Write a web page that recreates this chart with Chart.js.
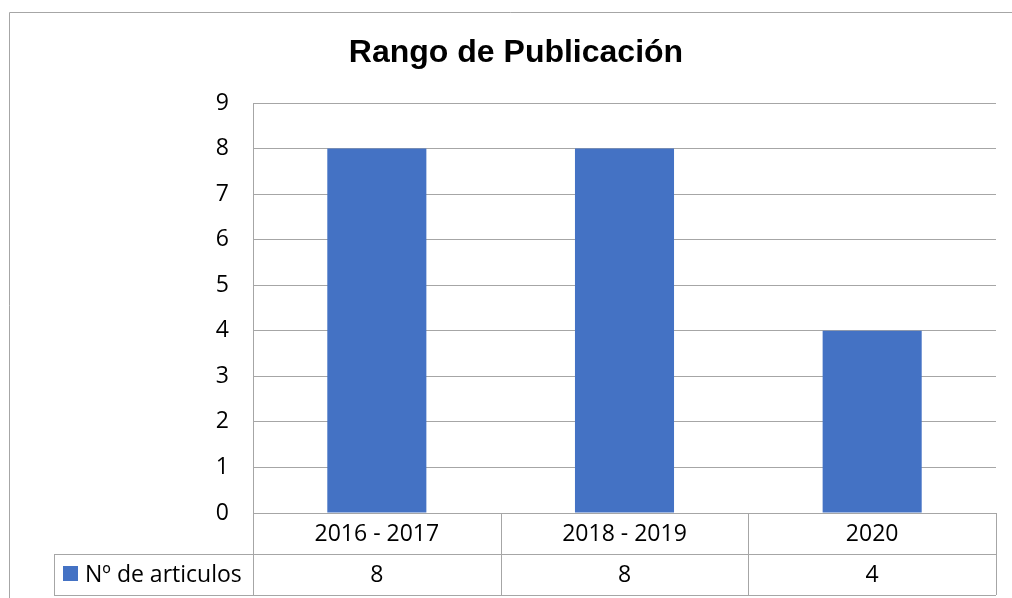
<!DOCTYPE html>
<html>
<head>
<meta charset="utf-8">
<script src="https://cdn.jsdelivr.net/npm/chart.js@4"></script>
<style>
  body { margin: 0; background: #fff; }
  canvas { display: block; }
</style>
</head>
<body>
<canvas id="grafico" width="1012" height="598"></canvas>
<script>
// Datos del gráfico
const titulo = 'Rango de Publicación';
const categorias = ['2016 - 2017', '2018 - 2019', '2020'];
const serieNombre = 'Nº de articulos';
const articulos = [8, 8, 4];
const ticksY = [0, 1, 2, 3, 4, 5, 6, 7, 8, 9];

const azul = '#4472C4';
const gris = '#a6a6a6';
const fuente = '"Open Sans", sans-serif';

// Título, borde exterior y tabla de datos bajo el eje
const tablaPlugin = {
  id: 'tabla',
  afterDraw(chart) {
    const ctx = chart.ctx;
    const area = chart.chartArea;
    const x = chart.scales.x;
    const ancho = (area.right - area.left) / categorias.length;
    const fila = 41;
    const y0 = area.bottom, y1 = y0 + fila, y2 = y1 + fila;
    const leyIzq = 54;

    ctx.save();
    // borde del gráfico
    ctx.strokeStyle = gris;
    ctx.lineWidth = 1;
    ctx.beginPath();
    ctx.moveTo(9.5, 598); ctx.lineTo(9.5, 12.5); ctx.lineTo(1012, 12.5);
    ctx.stroke();

    // título
    ctx.fillStyle = '#000';
    ctx.font = 'bold 32px "Liberation Sans", Arial, sans-serif';
    ctx.textAlign = 'center';
    ctx.textBaseline = 'middle';
    ctx.fillText(titulo, 516, 53);

    // líneas de la tabla
    ctx.strokeStyle = gris;
    ctx.beginPath();
    ctx.moveTo(area.left, y0 + 0.5); ctx.lineTo(area.right, y0 + 0.5);
    ctx.moveTo(leyIzq, y1 + 0.5); ctx.lineTo(area.right, y1 + 0.5);
    ctx.moveTo(leyIzq, y2 + 0.5); ctx.lineTo(area.right, y2 + 0.5);
    ctx.moveTo(leyIzq + 0.5, y1); ctx.lineTo(leyIzq + 0.5, y2);
    for (let i = 0; i <= categorias.length; i++) {
      const xi = Math.round(area.left + i * ancho) + 0.5;
      ctx.moveTo(xi, y0); ctx.lineTo(xi, y2);
    }
    ctx.stroke();

    // textos
    ctx.fillStyle = '#000';
    ctx.font = '23px ' + fuente;
    categorias.forEach((c, i) => {
      const cx = x.getPixelForValue(i);
      ctx.fillText(c, cx, (y0 + y1) / 2 + 1);
      ctx.fillText(String(articulos[i]), cx, (y1 + y2) / 2 + 1);
    });

    // leyenda
    ctx.fillStyle = azul;
    ctx.fillRect(63, 566, 15, 15);
    ctx.fillStyle = '#000';
    ctx.textAlign = 'left';
    ctx.fillText(serieNombre, 85, (y1 + y2) / 2 + 1);
    ctx.restore();
  }
};

new Chart(document.getElementById('grafico'), {
  type: 'bar',
  data: {
    labels: categorias,
    datasets: [{
      label: serieNombre,
      data: articulos,
      backgroundColor: azul,
      barPercentage: 1,
      categoryPercentage: 0.4
    }]
  },
  options: {
    responsive: false,
    animation: false,
    devicePixelRatio: 1,
    layout: { padding: { left: 0, top: 103, right: 16, bottom: 85 } },
    plugins: { legend: { display: false }, title: { display: false }, tooltip: { enabled: false } },
    scales: {
      x: { display: false },
      y: {
        min: 0,
        max: 9,
        afterFit(scale) { scale.width = 253; },
        afterBuildTicks(scale) { scale.ticks = ticksY.map(v => ({ value: v })); },
        grid: { color: gris, drawTicks: false },
        border: { color: gris },
        ticks: { padding: 24, color: '#000', font: { family: fuente, size: 23 } }
      }
    }
  },
  plugins: [tablaPlugin]
});
</script>
</body>
</html>
